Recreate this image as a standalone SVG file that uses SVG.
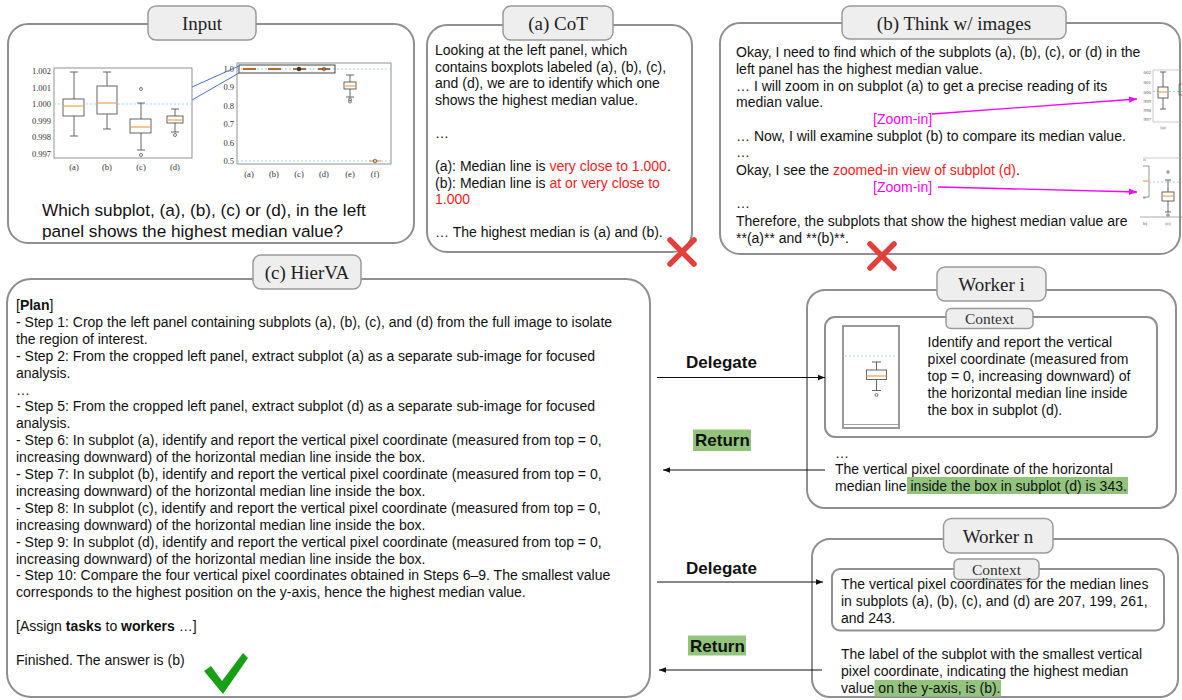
<svg xmlns="http://www.w3.org/2000/svg" width="1182" height="700" viewBox="0 0 1182 700">
<defs>
<style>
.panel{fill:#fff;stroke:#8f8f8f;stroke-width:2}
.tab{fill:#eeeeee;stroke:#9a9a9a;stroke-width:1.5}
.ttl{font-family:"Liberation Serif","Times New Roman",serif;font-size:19px;fill:#222;text-anchor:middle}
.ctx{font-family:"Liberation Serif","Times New Roman",serif;font-size:15.5px;fill:#333;text-anchor:middle}
.t{font-family:"Liberation Sans",Arial,sans-serif;font-size:14px;fill:#111}
.q{font-family:"Liberation Sans",Arial,sans-serif;font-size:17.2px;fill:#111}
.lbl{font-family:"Liberation Sans",Arial,sans-serif;font-size:17px;font-weight:bold;fill:#111}
.red{fill:#ff1a1a}
.mag{fill:#ff00ff}
.ax{font-family:"Liberation Serif","Times New Roman",serif;font-size:8.5px;fill:#333}
.axs{font-family:"Liberation Serif","Times New Roman",serif;font-size:5px;fill:#555}
.fr{fill:none;stroke:#777;stroke-width:0.8}
.bx{fill:#fff;stroke:#555;stroke-width:0.9}
.wh{stroke:#555;stroke-width:0.9;fill:none}
.md{stroke:#f0a050;stroke-width:1.2}
.dash{stroke:#8fd3e6;stroke-width:0.9;stroke-dasharray:2 2}
.ol{fill:none;stroke:#555;stroke-width:0.8}
.hl{fill:#93c47d}
.conn{stroke:#111;stroke-width:1;fill:none}
.zl{stroke:#ff00ff;stroke-width:1.3;fill:none}
.cross{stroke:#e2403a;stroke-width:5.5;stroke-linecap:round}
</style>
<marker id="ah" viewBox="0 0 10 10" refX="10" refY="5" markerWidth="7" markerHeight="7" orient="auto" markerUnits="userSpaceOnUse"><path d="M0,1 L10,5 L0,9 z" fill="#111"/></marker>
<marker id="am" viewBox="0 0 10 10" refX="10" refY="5" markerWidth="8" markerHeight="8" orient="auto" markerUnits="userSpaceOnUse"><path d="M0,1 L10,5 L0,9 z" fill="#ff00ff"/></marker>
</defs>
<rect width="1182" height="700" fill="#fff"/>

<g id="input">
<rect class="panel" x="8" y="24" width="406" height="219" rx="20"/>
<rect class="tab" x="148" y="6" width="108" height="34" rx="8"/>
<text class="ttl" x="202" y="30">Input</text>
<!-- left plot -->
<rect class="fr" x="54" y="68" width="138" height="90"/>
<line class="dash" x1="54" y1="104" x2="192" y2="104"/>
<g class="ax" text-anchor="end">
<text x="51" y="74">1.002</text><text x="51" y="91">1.001</text><text x="51" y="107">1.000</text><text x="51" y="124">0.999</text><text x="51" y="140">0.998</text><text x="51" y="157">0.997</text>
</g>
<g class="ax" text-anchor="middle">
<text x="74" y="170">(a)</text><text x="107" y="170">(b)</text><text x="141" y="170">(c)</text><text x="175" y="170">(d)</text>
</g>
<path class="wh" d="M74,72V99M74,116V136M70,72H78M70,136H78"/>
<rect class="bx" x="63" y="99" width="21" height="17"/>
<line class="md" x1="63" y1="106" x2="84" y2="106"/>
<path class="wh" d="M107,72V86M107,114V129M103,72H111M103,129H111"/>
<rect class="bx" x="97" y="86" width="20" height="28"/>
<line class="md" x1="97" y1="103" x2="117" y2="103"/>
<path class="wh" d="M141,103V119M141,133V150M137,103H145M137,150H145"/>
<rect class="bx" x="130" y="119" width="21" height="14"/>
<line class="md" x1="130" y1="127" x2="151" y2="127"/>
<circle class="ol" cx="141" cy="89" r="1.5"/><circle class="ol" cx="141" cy="155" r="1.5"/>
<path class="wh" d="M175,109V116M175,123V132M171,109H179M171,132H179"/>
<rect class="bx" x="167" y="116" width="16" height="7"/>
<line class="md" x1="167" y1="120" x2="183" y2="120"/>
<circle class="ol" cx="175" cy="135" r="1.5"/>
<!-- right plot -->
<rect class="fr" x="237" y="63" width="154" height="101"/>
<line class="dash" x1="237" y1="69" x2="391" y2="69"/>
<line class="dash" x1="237" y1="161" x2="391" y2="161"/>
<g class="ax" text-anchor="end">
<text x="234" y="72">1.0</text><text x="234" y="90">0.9</text><text x="234" y="109">0.8</text><text x="234" y="127">0.7</text><text x="234" y="146">0.6</text><text x="234" y="164">0.5</text>
</g>
<g class="ax" text-anchor="middle">
<text x="249" y="177">(a)</text><text x="274" y="177">(b)</text><text x="299" y="177">(c)</text><text x="324" y="177">(d)</text><text x="350" y="177">(e)</text><text x="375" y="177">(f)</text>
</g>
<g stroke="#b06a2a" stroke-width="2">
<line x1="243" y1="69" x2="256" y2="69"/><line x1="268" y1="69" x2="281" y2="69"/><line x1="293" y1="69" x2="306" y2="69"/><line x1="318" y1="69" x2="330" y2="69"/>
</g>
<circle cx="299" cy="69" r="2.2" fill="#333"/><circle class="ol" cx="324" cy="69" r="1.8"/>
<rect x="239" y="65" width="96" height="8" fill="none" stroke="#444" stroke-width="1"/>
<path class="wh" d="M350,75V82M350,89V97M346,75H354M346,97H354"/>
<rect class="bx" x="344" y="82" width="12" height="7"/>
<line class="md" x1="344" y1="86" x2="356" y2="86"/>
<circle class="ol" cx="350" cy="99.5" r="1.5"/><circle class="ol" cx="350" cy="101.5" r="1.5"/>
<line class="md" x1="369" y1="161" x2="381" y2="161"/>
<circle class="ol" cx="375" cy="161" r="1.8"/>
<line x1="192" y1="87" x2="239" y2="66" stroke="#4a72c4" stroke-width="1"/>
<line x1="192" y1="100" x2="239" y2="73" stroke="#4a72c4" stroke-width="1"/>
<text class="q" x="42" y="216">Which subplot, (a), (b), (c) or (d), in the left</text>
<text class="q" x="42" y="237">panel shows the highest median value?</text>
</g>

<g id="cot">
<rect class="panel" x="427" y="25" width="265" height="227" rx="20"/>
<rect class="tab" x="503" y="6" width="110" height="34" rx="8"/>
<text class="ttl" x="558" y="30">(a) CoT</text>
<text class="t" x="435" y="55">Looking at the left panel, which</text>
<text class="t" x="435" y="71.6">contains boxplots labeled (a), (b), (c),</text>
<text class="t" x="435" y="88.2">and (d), we are to identify which one</text>
<text class="t" x="435" y="104.8">shows the highest median value.</text>
<text class="t" x="435" y="138">…</text>
<text class="t" x="435" y="171">(a): Median line is <tspan class="red">very close to 1.000</tspan>.</text>
<text class="t" x="435" y="187.6">(b): Median line is <tspan class="red">at or very close to</tspan></text>
<text class="t red" x="435" y="204.2">1.000</text>
<text class="t" x="435" y="237">… The highest median is (a) and (b).</text>
<g id="cot-x"><line class="cross" x1="670" y1="240" x2="694" y2="264"/><line class="cross" x1="694" y1="240" x2="670" y2="264"/></g>
</g>

<g id="think">
<rect class="panel" x="720" y="23" width="460" height="231" rx="20"/>
<rect class="tab" x="842" y="6" width="224" height="33" rx="8"/>
<text class="ttl" x="954" y="29.5">(b) Think w/ images</text>
<text class="t" x="736" y="56.7">Okay, I need to find which of the subplots (a), (b), (c), or (d) in the</text>
<text class="t" x="736" y="73.6">left panel has the highest median value.</text>
<text class="t" x="736" y="90.5">… I will zoom in on subplot (a) to get a precise reading of its</text>
<text class="t" x="736" y="107.4">median value.</text>
<text class="t mag" x="873" y="124.3">[Zoom-in]</text>
<text class="t" x="736" y="141.2">… Now, I will examine subplot (b) to compare its median value.</text>
<text class="t" x="736" y="157">…</text>
<text class="t" x="736" y="175">Okay, I see the <tspan class="red">zoomed-in view of subplot (d)</tspan>.</text>
<text class="t mag" x="873" y="191.9">[Zoom-in]</text>
<text class="t" x="736" y="207.5">…</text>
<text class="t" x="736" y="225.7">Therefore, the subplots that show the highest median value are</text>
<text class="t" x="736" y="242.6">**(a)** and **(b)**.</text>
<!-- thumbnail 1 -->
<path d="M1153,70H1182M1153,70V122H1182" fill="none" stroke="#aaa" stroke-width="0.6"/>
<line class="dash" x1="1153" y1="91.5" x2="1182" y2="91.5"/>
<g class="axs" text-anchor="end">
<text x="1151" y="74">002</text><text x="1151" y="84">001</text><text x="1151" y="94">000</text><text x="1151" y="103">999</text><text x="1151" y="112">998</text><text x="1151" y="121">997</text>
</g>
<path class="wh" d="M1163,72V87M1163,98V109M1160,72H1166M1160,109H1166" stroke-width="0.6"/>
<rect class="bx" x="1158" y="87" width="10" height="11" stroke-width="0.6"/>
<line class="md" x1="1158" y1="92" x2="1168" y2="92" stroke-width="0.8"/>
<path d="M1182,84H1179V95H1182" fill="none" stroke="#555" stroke-width="0.6"/>
<text class="axs" x="1163" y="129" text-anchor="middle">(a)</text>
<!-- thumbnail 2 -->
<line x1="1143" y1="158" x2="1182" y2="158" stroke="#aaa" stroke-width="0.6"/>
<line x1="1140" y1="217" x2="1182" y2="217" stroke="#888" stroke-width="0.7"/>
<path d="M1143,160H1146M1143,166H1149V197H1143M1143,198H1146" fill="none" stroke="#555" stroke-width="0.6"/>
<line class="md" x1="1143" y1="181" x2="1149" y2="181" stroke-width="0.8"/>
<line class="dash" x1="1149" y1="182" x2="1182" y2="182"/>
<path class="wh" d="M1168,180V192M1168,201V212M1165,180H1171M1165,212H1171" stroke-width="0.6"/>
<rect class="bx" x="1162" y="192" width="12" height="9" stroke-width="0.6"/>
<line class="md" x1="1162" y1="196" x2="1174" y2="196" stroke-width="0.8"/>
<circle class="ol" cx="1168" cy="172" r="1.2" stroke-width="0.5"/><circle class="ol" cx="1168" cy="215" r="1.2" stroke-width="0.5"/>
<text class="axs" x="1145" y="225" text-anchor="middle">b)</text>
<text class="axs" x="1168" y="225" text-anchor="middle">(c)</text>
<g id="think-x"><line class="cross" x1="870" y1="244" x2="894" y2="268"/><line class="cross" x1="894" y1="244" x2="870" y2="268"/></g>
</g>

<g id="hierva">
<rect class="panel" x="7" y="279" width="643" height="418" rx="24"/>
<rect class="tab" x="253" y="255" width="108" height="34" rx="8"/>
<text class="ttl" x="307" y="279">(c) HierVA</text>
<text class="t" x="16" y="310">[<tspan font-weight="bold">Plan</tspan>]</text>
<text class="t" x="16" y="326.9">- Step 1: Crop the left panel containing subplots (a), (b), (c), and (d) from the full image to isolate</text>
<text class="t" x="16" y="343.8">the region of interest.</text>
<text class="t" x="16" y="360.7">- Step 2: From the cropped left panel, extract subplot (a) as a separate sub-image for focused</text>
<text class="t" x="16" y="377.6">analysis.</text>
<text class="t" x="16" y="394.5">…</text>
<text class="t" x="16" y="411.4">- Step 5: From the cropped left panel, extract subplot (d) as a separate sub-image for focused</text>
<text class="t" x="16" y="428.3">analysis.</text>
<text class="t" x="16" y="445.2">- Step 6: In subplot (a), identify and report the vertical pixel coordinate (measured from top = 0,</text>
<text class="t" x="16" y="462.1">increasing downward) of the horizontal median line inside the box.</text>
<text class="t" x="16" y="479">- Step 7: In subplot (b), identify and report the vertical pixel coordinate (measured from top = 0,</text>
<text class="t" x="16" y="495.9">increasing downward) of the horizontal median line inside the box.</text>
<text class="t" x="16" y="512.8">- Step 8: In subplot (c), identify and report the vertical pixel coordinate (measured from top = 0,</text>
<text class="t" x="16" y="529.7">increasing downward) of the horizontal median line inside the box.</text>
<text class="t" x="16" y="546.6">- Step 9: In subplot (d), identify and report the vertical pixel coordinate (measured from top = 0,</text>
<text class="t" x="16" y="563.5">increasing downward) of the horizontal median line inside the box.</text>
<text class="t" x="16" y="580.4">- Step 10: Compare the four vertical pixel coordinates obtained in Steps 6–9. The smallest value</text>
<text class="t" x="16" y="597.3">corresponds to the highest position on the y-axis, hence the highest median value.</text>
<text class="t" x="16" y="631.1">[Assign <tspan font-weight="bold">tasks</tspan> to <tspan font-weight="bold">workers</tspan> …]</text>
<text class="t" x="16" y="665">Finished. The answer is (b)</text>
<path id="check" d="M204,671 L211,666 L222,681 L243,653 L248,658 L223,694 Z" fill="#17a017"/>
</g>

<g id="worker-i">
<rect class="panel" x="807" y="290" width="369" height="218" rx="18"/>
<rect class="tab" x="937" y="267" width="109" height="34" rx="8"/>
<text class="ttl" x="991.5" y="290.5">Worker i</text>
<rect class="panel" x="825" y="317" width="332" height="120" rx="10"/>
<rect class="tab" x="946" y="308.5" width="87" height="20" rx="5"/>
<text class="ctx" x="989.5" y="323.5">Context</text>
<rect x="843" y="326" width="56" height="102" fill="#fff" stroke="#999" stroke-width="2"/>
<line class="dash" x1="845" y1="356" x2="897" y2="356"/>
<path class="wh" d="M876.5,362V370M876.5,379.5V390.5M872,362H881M872,390.5H881" stroke-width="0.8"/>
<rect class="bx" x="866.5" y="370" width="20" height="9.5" stroke-width="0.8"/>
<line class="md" x1="866.5" y1="376" x2="886.5" y2="376"/>
<circle class="ol" cx="876.5" cy="395" r="1.5"/>
<line x1="844" y1="424.5" x2="898" y2="424.5" stroke="#888" stroke-width="0.8"/>
<text class="t" x="927.6" y="347">Identify and report the vertical</text>
<text class="t" x="927.6" y="364">pixel coordinate (measured from</text>
<text class="t" x="927.6" y="381">top = 0, increasing downward) of</text>
<text class="t" x="927.6" y="398">the horizontal median line inside</text>
<text class="t" x="927.6" y="415">the box in subplot (d).</text>
<text class="t" x="835" y="458">…</text>
<rect class="hl" x="907" y="477" width="221" height="17"/>
<text class="t" x="835" y="474">The vertical pixel coordinate of the horizontal</text>
<text class="t" x="835" y="491">median line inside the box in subplot (d) is 343.</text>
</g>

<g id="worker-n">
<rect class="panel" x="812" y="539" width="366" height="158" rx="18"/>
<rect class="tab" x="943.5" y="518.5" width="109.5" height="34.5" rx="8"/>
<text class="ttl" x="998" y="542.5">Worker n</text>
<rect class="panel" x="832" y="569" width="332" height="61.5" rx="8"/>
<rect class="tab" x="954" y="559" width="85" height="20.5" rx="5"/>
<text class="ctx" x="996.5" y="574.5">Context</text>
<text class="t" x="841" y="589">The vertical pixel coordinates for the median lines</text>
<text class="t" x="841" y="606">in subplots (a), (b), (c), and (d) are 207, 199, 261,</text>
<text class="t" x="841" y="623">and 243.</text>
<rect class="hl" x="874.5" y="680" width="126.5" height="16.5"/>
<text class="t" x="841" y="659">The label of the subplot with the smallest vertical</text>
<text class="t" x="841" y="676">pixel coordinate, indicating the highest median</text>
<text class="t" x="841" y="693">value on the y-axis, is (b).</text>
</g>

<g id="labels">
<text class="lbl" x="686" y="368">Delegate</text>
<rect class="hl" x="693" y="429.5" width="58" height="21.5"/>
<text class="lbl" x="695" y="446">Return</text>
<text class="lbl" x="686" y="574">Delegate</text>
<rect class="hl" x="688" y="635.5" width="58" height="20"/>
<text class="lbl" x="690" y="651.5">Return</text>
</g>

<g id="connectors">
<line class="conn" x1="657" y1="377.5" x2="825" y2="377.5" marker-end="url(#ah)"/>
<line class="conn" x1="825" y1="470" x2="663" y2="470" marker-end="url(#ah)"/>
<line class="conn" x1="657" y1="582" x2="823" y2="582" marker-end="url(#ah)"/>
<line class="conn" x1="822" y1="670" x2="659" y2="670" marker-end="url(#ah)"/>
<line class="zl" x1="932" y1="114" x2="1137" y2="99" marker-end="url(#am)"/>
<line class="zl" x1="938" y1="187" x2="1137" y2="192" marker-end="url(#am)"/>
</g>
</svg>
